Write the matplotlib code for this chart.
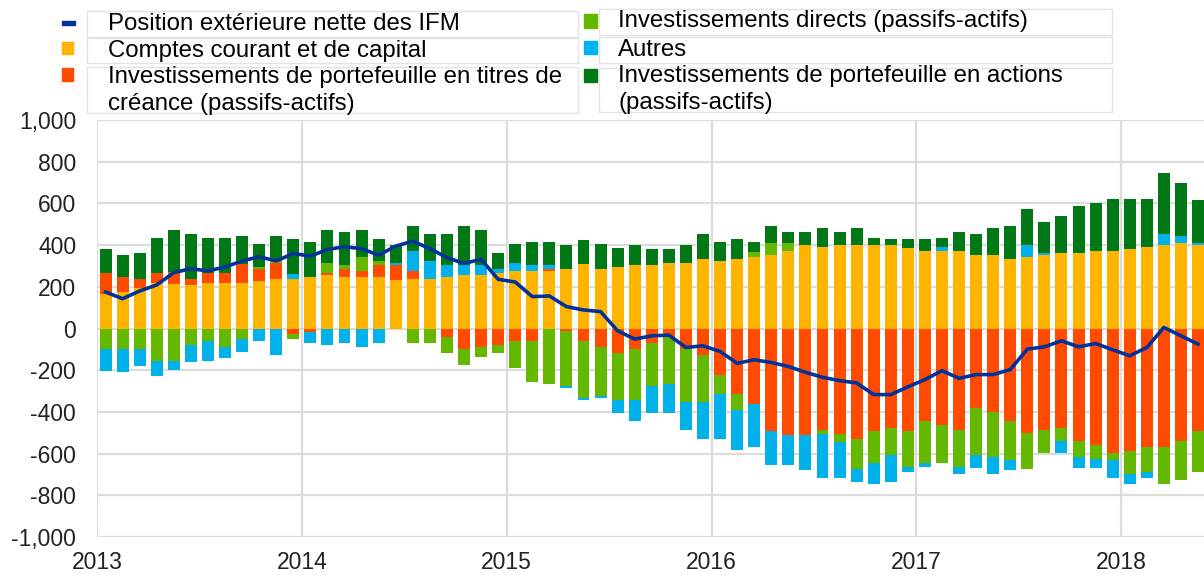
import matplotlib.pyplot as plt
import numpy as np
from matplotlib.patches import Rectangle

plt.rcParams["font.family"] = ["Liberation Sans", "DejaVu Sans"]

# monthly data, Jan 2013 - May 2018 (EUR bn)
years = ["2013", "2014", "2015", "2016", "2017", "2018"]

current_capital = [
    164, 175, 193, 220, 212, 209, 220, 220, 220, 228, 239, 239,
    249, 257, 247, 247, 247, 231, 239, 239, 247, 257, 257, 268,
    276, 276, 276, 284, 308, 287, 296, 304, 304, 312, 312, 332,
    324, 332, 343, 352, 371, 399, 391, 399, 399, 399, 399, 387,
    371, 371, 371, 352, 352, 332, 343, 352, 360, 360, 371, 371,
    379, 391, 399, 408, 399,
]
portfolio_debt = [
    104, 74, 46, 48, 61, 30, 45, 48, 88, 59, 77, -27,
    -19, 11, 40, 29, 57, 73, 37, 0, -43, -99, -91, -80,
    -62, -62, 8, -10, -59, -91, -118, -99, -70, -43, -99, -126,
    -222, -314, -362, -494, -513, -513, -485, -505, -529, -494, -477, -494,
    -446, -462, -485, -381, -399, -446, -502, -485, -477, -540, -561, -596,
    -588, -569, -569, -540, -494,
]
direct_inv = [
    -99, -99, -99, -155, -155, -80, -59, -91, -51, 9, 10, -24,
    0, 48, 17, 67, 20, 0, -70, -70, -75, -75, -44, -38,
    -129, -196, -268, -267, -276, -234, -225, -244, -207, -225, -255, -228,
    -92, -77, 25, 56, 37, 0, -20, -37, -144, -150, -129, -168,
    -198, -182, -177, -225, -218, -187, -171, -111, -63, -77, -64, -37,
    -112, -120, -179, -188, -195,
]
other = [
    -103, -111, -83, -75, -44, -83, -96, -52, -64, -59, -126, 21,
    -51, -80, -70, -88, -70, 12, 95, 85, 57, 47, 47, 19,
    36, 27, 20, -8, -8, -7, -63, -102, -129, -138, -131, -175,
    -215, -194, -204, -160, -141, -168, -212, -175, -63, -104, -130, -27,
    -18, 20, -38, -63, -83, -48, 56, 8, -56, -52, -44, -84,
    -44, -28, 55, 35, 9,
]
portfolio_equity = [
    111, 103, 121, 167, 199, 215, 170, 167, 135, 110, 117, 167,
    167, 156, 158, 129, 103, 83, 120, 130, 150, 187, 168, 73,
    94, 113, 112, 115, 116, 119, 91, 95, 75, 67, 87, 122,
    92, 95, 48, 83, 56, 65, 92, 65, 84, 36, 28, 40,
    56, 44, 93, 102, 131, 159, 176, 150, 179, 227, 232, 251,
    243, 231, 292, 255, 206,
]
net_position = [
    175, 143, 180, 209, 268, 287, 276, 295, 324, 344, 324, 360,
    347, 379, 392, 383, 352, 395, 419, 383, 340, 312, 332, 236,
    223, 153, 156, 105, 89, 81, -11, -51, -35, -32, -91, -83,
    -110, -167, -150, -163, -182, -210, -234, -250, -261, -317, -317, -280,
    -245, -202, -239, -221, -221, -197, -99, -88, -59, -88, -72, -102,
    -131, -91, 5, -35, -75,
]

series = [
    (current_capital, "#FFB400"),
    (portfolio_debt, "#FF4B00"),
    (direct_inv, "#65B800"),
    (other, "#00B1EA"),
    (portfolio_equity, "#007816"),
]

fig = plt.figure(figsize=(12.04, 5.75), dpi=100)
ax = fig.add_axes([97 / 1204, 38 / 575, 1107 / 1204, 417 / 575])

x = np.arange(len(current_capital)) + 0.5
pos_base = np.zeros(len(x))
neg_base = np.zeros(len(x))
for values, color in series:
    v = np.array(values, dtype=float)
    pos = np.where(v > 0, v, 0)
    neg = np.where(v < 0, v, 0)
    ax.bar(x, pos, bottom=pos_base, width=0.7, color=color, zorder=2)
    ax.bar(x, neg, bottom=neg_base, width=0.7, color=color, zorder=2)
    pos_base += pos
    neg_base += neg

ax.plot(x, net_position, color="#003299", lw=2.6, zorder=3)

ax.set_xlim(0, 64.85)
ax.set_ylim(-1000, 1000)
ax.set_yticks(range(-1000, 1001, 200))
ax.set_yticklabels([f"{v:,}" for v in range(-1000, 1001, 200)])
ax.set_xticks(np.arange(0, 61, 12))
ax.set_xticklabels(years)
ax.tick_params(length=0, labelsize=16.5, labelcolor="#222222")
ax.tick_params(axis="y", pad=15)
ax.tick_params(axis="x", pad=10)
ax.grid(True, color="#dcdcdc", lw=1.6, zorder=0)
for s in ax.spines.values():
    s.set_visible(False)

# legend drawn by hand in pixel coordinates
lax = fig.add_axes([0, 0, 1, 1])
lax.set_xlim(0, 1204)
lax.set_ylim(575, 0)
lax.axis("off")

box_ec = "#e3e3e3"
fs = 17.3
left_boxes = [(87, 11, 491, 26), (87, 38, 491, 25), (87, 67, 491, 46)]
right_boxes = [(599, 9, 513, 26), (599, 37, 513, 26), (599, 68, 513, 44)]
for bx, by, bw, bh in left_boxes + right_boxes:
    lax.add_patch(Rectangle((bx, by), bw, bh, fill=False, ec=box_ec, lw=1))

lax.add_patch(Rectangle((62, 21), 13, 4, color="#003299"))
lax.add_patch(Rectangle((62, 42), 11, 12, color="#FFB400"))
lax.add_patch(Rectangle((62, 68), 11, 13, color="#FF4B00"))
lax.add_patch(Rectangle((584, 14), 13, 14, color="#65B800"))
lax.add_patch(Rectangle((584, 41), 13, 13, color="#00B1EA"))
lax.add_patch(Rectangle((584, 69), 13, 13, color="#007816"))

lax.text(108, 24, "Position extérieure nette des IFM", fontsize=fs, va="center")
lax.text(108, 51, "Comptes courant et de capital", fontsize=fs, va="center")
lax.text(108, 77, "Investissements de portefeuille en titres de", fontsize=fs, va="center")
lax.text(108, 104, "créance (passifs-actifs)", fontsize=fs, va="center")
lax.text(618, 21, "Investissements directs (passifs-actifs)", fontsize=fs, va="center")
lax.text(618, 50, "Autres", fontsize=fs, va="center")
lax.text(618, 76, "Investissements de portefeuille en actions", fontsize=fs, va="center")
lax.text(618, 103, "(passifs-actifs)", fontsize=fs, va="center")

fig.savefig("out.png", dpi=100)
